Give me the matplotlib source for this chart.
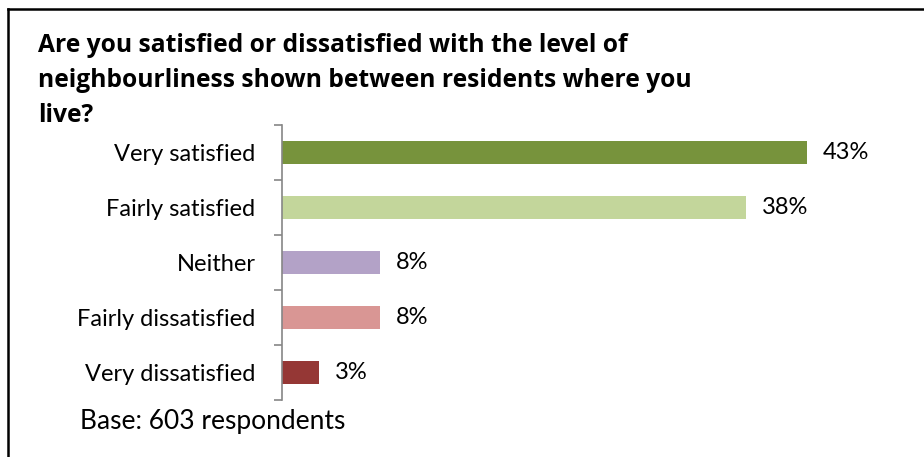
import matplotlib.pyplot as plt
from matplotlib.lines import Line2D

categories = ['Very satisfied', 'Fairly satisfied', 'Neither', 'Fairly dissatisfied', 'Very dissatisfied']
values = [43, 38, 8, 8, 3]
labels = ['43%', '38%', '8%', '8%', '3%']
colors = ['#77933C', '#C3D69B', '#B3A2C7', '#D99694', '#953735']

title = ('Are you satisfied or dissatisfied with the level of\n'
         'neighbourliness shown between residents where you\n'
         'live?')
base_note = 'Base: 603 respondents'


def main():
    plt.rcParams['font.family'] = ['Lato', 'DejaVu Sans']

    W, H = 924, 457
    fig = plt.figure(figsize=(W / 100, H / 100), dpi=100)

    # axes placed in pixel terms
    left, right, top, bottom = 282, 892, 125, 400
    ax = fig.add_axes([left / W, 1 - bottom / H, (right - left) / W, (bottom - top) / H])

    y = list(range(len(categories)))
    ax.barh(y, values, height=0.42, color=colors)
    ax.set_xlim(0, 50)
    ax.set_ylim(len(categories) - 0.5, -0.5)

    for yi, v, lab in zip(y, values, labels):
        ax.text(v + 1.3, yi, lab, va='center', ha='left', fontsize=17, color='black')

    for s in ['top', 'right', 'bottom']:
        ax.spines[s].set_visible(False)
    ax.spines['left'].set_color('#868686')
    ax.spines['left'].set_linewidth(1.2)
    ax.set_xticks([])
    ax.set_yticks(y)
    ax.set_yticklabels(categories, fontsize=17)
    ax.tick_params(axis='y', which='major', length=0, pad=19)
    ax.set_yticks([i - 0.5 for i in range(len(categories) + 1)], minor=True)
    ax.tick_params(axis='y', which='minor', length=6, width=1.2, color='#868686', direction='out')

    fig.text(38 / W, 1 - 33 / H, title, fontsize=17.7, fontweight='bold',
             family=['Open Sans', 'DejaVu Sans'],
             ha='left', va='top', linespacing=1.52)
    fig.text(80 / W, 1 - 422 / H, base_note, fontsize=19, ha='left', va='center')

    # outer frame (runs off the right and bottom edges)
    fig.add_artist(Line2D([8 / W, 1.01], [1 - 9 / H, 1 - 9 / H], color='black', lw=1.8,
                          transform=fig.transFigure))
    fig.add_artist(Line2D([8 / W, 8 / W], [1 - 9 / H, -0.01], color='black', lw=1.8,
                          transform=fig.transFigure))

    fig.savefig('out.png', dpi=100)


if __name__ == '__main__':
    main()
